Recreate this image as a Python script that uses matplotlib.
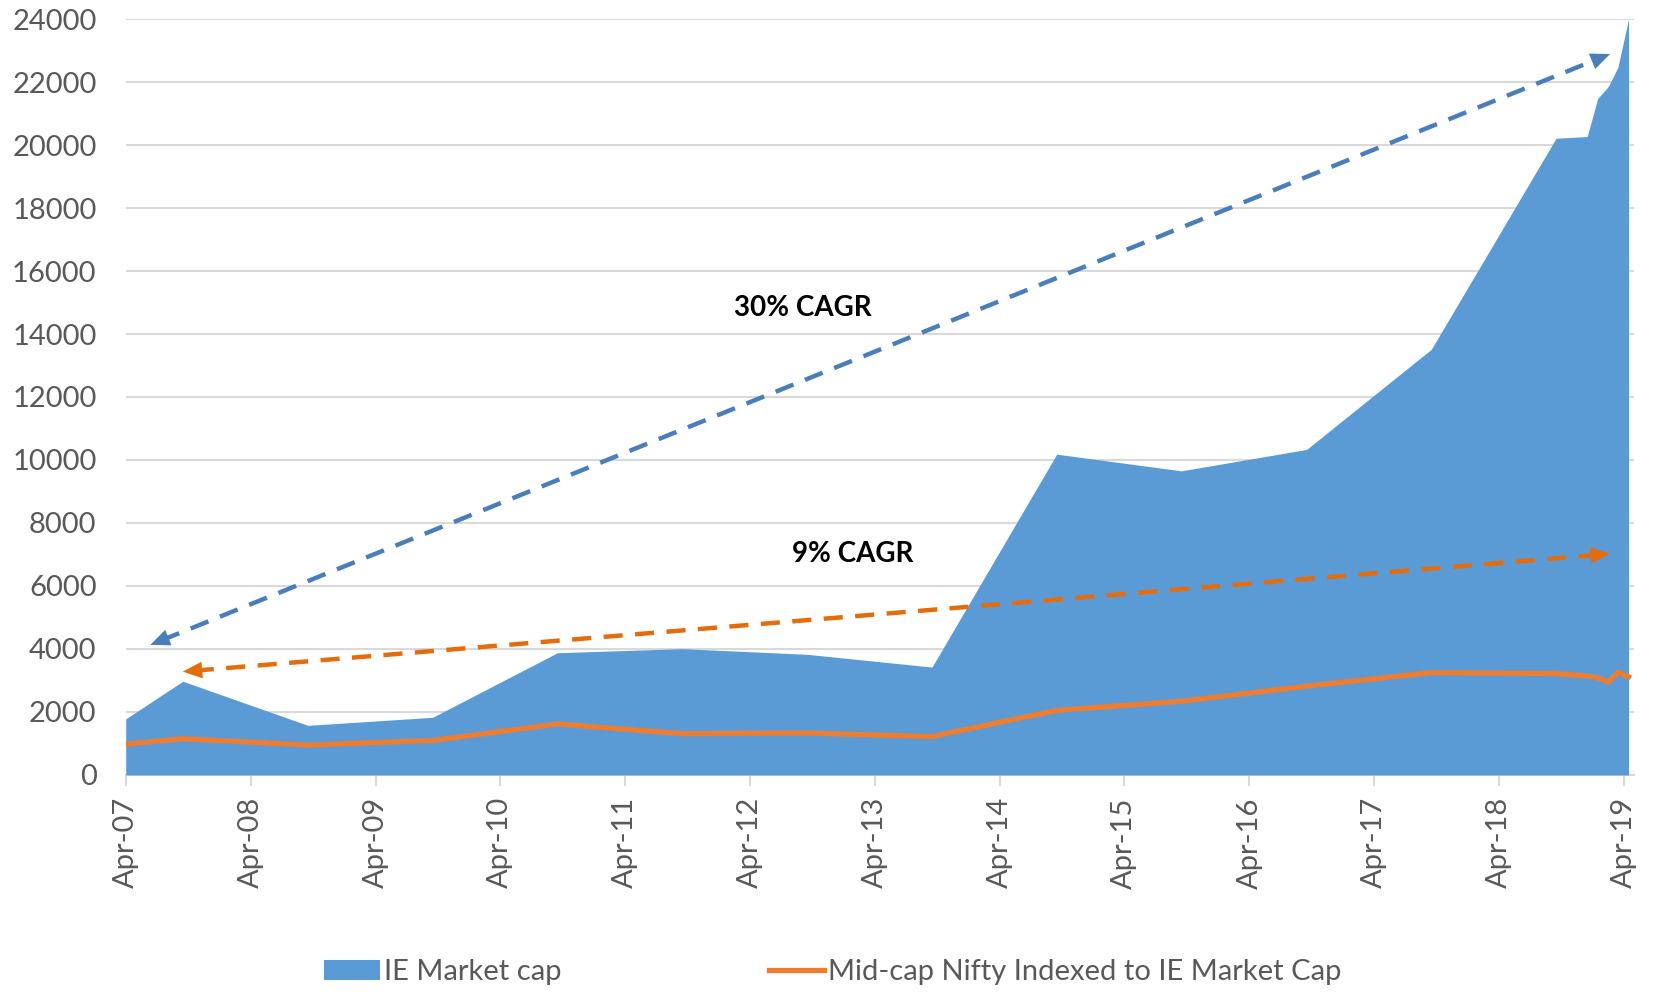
import matplotlib
matplotlib.use('Agg')
import matplotlib.pyplot as plt
import matplotlib.dates as mdates
from matplotlib.patches import Patch
from matplotlib.lines import Line2D
import numpy as np

# data
dates = ['2007-04-01', '2007-09-15', '2008-09-15', '2009-09-15', '2010-09-15',
         '2011-09-15', '2012-09-15', '2013-09-15', '2014-09-15', '2015-09-15',
         '2016-09-15', '2017-09-15', '2018-09-15', '2018-12-15', '2019-01-15',
         '2019-02-15', '2019-03-15', '2019-04-15']
ie_mcap = [1780, 2975, 1575, 1830, 3880, 4010, 3830, 3425, 10185, 9655,
           10335, 13515, 20215, 20270, 21480, 21860, 22470, 24000]
midcap = [980, 1150, 950, 1095, 1620, 1310, 1330, 1220, 2050, 2340,
          2820, 3250, 3220, 3140, 3085, 2945, 3265, 3115]

# CAGR arrows (end points) and their labels
blue_arrow = [('2007-06-12', 4130), ('2019-02-20', 22890)]
orange_arrow = [('2007-09-15', 3280), ('2019-02-20', 7020)]
labels = [('30% CAGR', '2012-09-01', 14830), ('9% CAGR', '2013-01-27', 7020)]

AREA = '#5B9BD5'
LINE = '#ED7D31'
GREY = '#595959'
GRID = '#D9D9D9'

plt.rcParams['font.family'] = ['Lato', 'DejaVu Sans']

x = np.array(dates, dtype='datetime64[D]')

fig = plt.figure(figsize=(16.54, 9.92), dpi=100)
ax = fig.add_axes([0.076, 0.2188, 0.9119, 0.762])

ax.fill_between(x, 0, ie_mcap, color=AREA, lw=0, zorder=2)
ax.plot(x, midcap, color=LINE, lw=3.8, solid_joinstyle='round', zorder=3)

ax.set_ylim(0, 24000)
ax.set_xlim(np.datetime64('2007-04-01'), np.datetime64('2019-05-01'))
ax.set_yticks(np.arange(0, 24001, 2000))
ax.yaxis.grid(True, color=GRID, lw=1.5)
ax.set_axisbelow(True)

ax.xaxis.set_major_locator(mdates.MonthLocator(bymonth=4, bymonthday=1))
ax.xaxis.set_major_formatter(mdates.DateFormatter('%b-%y'))
plt.setp(ax.get_xticklabels(), rotation=90)

for s in ['top', 'right', 'left']:
	ax.spines[s].set_visible(False)
ax.spines['bottom'].set_color(GRID)
ax.spines['bottom'].set_linewidth(1.5)
ax.spines['bottom'].set_zorder(1)

ax.tick_params(axis='x', colors=GRID, length=8, width=1.5, pad=8, labelsize=21, labelcolor=GREY)
ax.tick_params(axis='y', length=0, pad=21, labelsize=21, labelcolor=GREY)


def cagr_arrow(p0, p1, color):
	a = (mdates.date2num(np.datetime64(p0[0])), p0[1])
	b = (mdates.date2num(np.datetime64(p1[0])), p1[1])
	# dashed shaft, pulled back a little from each tip
	da = ax.transData.transform(a)
	db = ax.transData.transform(b)
	L = np.hypot(*(db - da))
	f = 12.0 / L
	inv = ax.transData.inverted()
	sa = inv.transform(da + (db - da) * f)
	sb = inv.transform(db - (db - da) * f)
	ax.plot([sa[0], sb[0]], [sa[1], sb[1]], color=color, lw=3.2,
	        dashes=(4.3, 2.8), solid_capstyle='butt', dash_capstyle='butt', zorder=4)
	for tip, tail in [(b, a), (a, b)]:
		ax.annotate('', xy=tip, xytext=tail,
		            arrowprops=dict(arrowstyle='-|>,head_length=0.7,head_width=0.3',
		                            mutation_scale=20, lw=0, color=color,
		                            shrinkA=0, shrinkB=0), zorder=5)


cagr_arrow(blue_arrow[0], blue_arrow[1], '#4A7EBB')
cagr_arrow(orange_arrow[0], orange_arrow[1], '#E46C0A')

for txt, d, v in labels:
	ax.text(mdates.date2num(np.datetime64(d)), v, txt, fontsize=20, fontweight='bold',
	        color='black', ha='center', va='center', zorder=6)

handles = [Patch(facecolor=AREA, label='IE Market cap'),
           Line2D([], [], color=LINE, lw=3.8, label='Mid-cap Nifty Indexed to IE Market Cap')]
fig.legend(handles=handles, loc='center', bbox_to_anchor=(0.5036, 0.02), ncol=2,
           frameon=False, fontsize=21, handlelength=1.9, handletextpad=0.15,
           columnspacing=7.1, labelcolor=GREY)

plt.savefig('out.png', dpi=100)
